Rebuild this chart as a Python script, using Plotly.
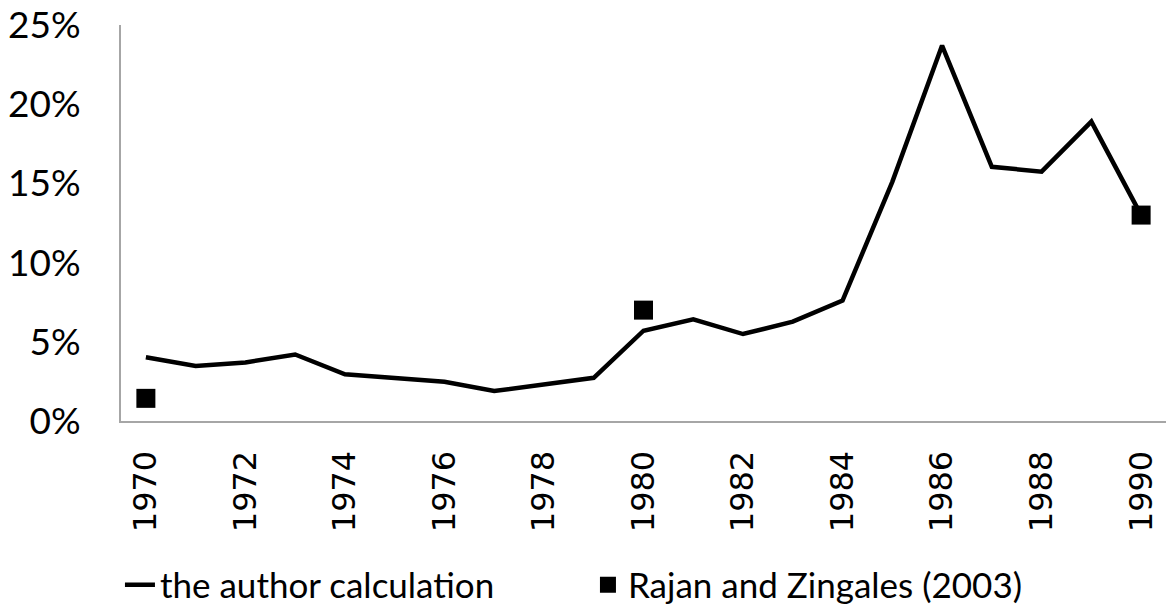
import plotly.graph_objects as go

years = list(range(1970, 1991))
author_calc = [4.02, 3.47, 3.70, 4.20, 2.95, 2.73, 2.48, 1.89, 2.32, 2.73,
               5.70, 6.42, 5.49, 6.27, 7.60, 15.1, 23.7, 16.05, 15.74, 18.9, 13.0]
rz_years = [1970, 1980, 1990]
rz_values = [1.43, 7.0, 13.0]
y_ticks = [0, 5, 10, 15, 20, 25]
y_tick_labels = ["0%", "5%", "10%", "15%", "20%", "25%"]

fig = go.Figure()
fig.add_trace(go.Scatter(
    x=years, y=author_calc, mode="lines", name="the author calculation",
    line=dict(color="black", width=4.5)))
fig.add_trace(go.Scatter(
    x=rz_years, y=rz_values, mode="markers", name="Rajan and Zingales (2003)",
    marker=dict(symbol="square", size=19, color="black")))

fig.update_layout(
    width=1166, height=608,
    margin=dict(l=121, r=0, t=25, b=187, autoexpand=False),
    paper_bgcolor="white", plot_bgcolor="white",
    showlegend=True,
    legend=dict(orientation="h", x=-0.001, xanchor="left", y=-0.414, yanchor="middle",
                font=dict(family="Lato", size=35, color="black"),
                itemwidth=30, tracegroupgap=0, entrywidth=423, entrywidthmode="pixels",
                bgcolor="rgba(0,0,0,0)"),
    xaxis=dict(range=[1969.5, 1990.5], tickmode="linear", tick0=1970, dtick=2,
               tickangle=-90, showgrid=False, zeroline=False, automargin=False,
               showline=True, linecolor="#a6a6a6", linewidth=2,
               ticks="", ticklabelstandoff=15, ticklabeloverflow="allow",
               tickfont=dict(family="DejaVu Sans", size=32, color="black")),
    yaxis=dict(range=[0, 25], tickvals=y_ticks, ticktext=y_tick_labels,
               showgrid=False, zeroline=False, automargin=False,
               showline=True, linecolor="#a6a6a6", linewidth=2,
               ticks="", ticklabelstandoff=31, ticklabeloverflow="allow",
               tickfont=dict(family="Lato", size=37, color="black")),
)

fig.write_html("out.html", config={"displayModeBar": False},
               post_script="document.body.style.margin='0';document.body.style.overflow='hidden';")
